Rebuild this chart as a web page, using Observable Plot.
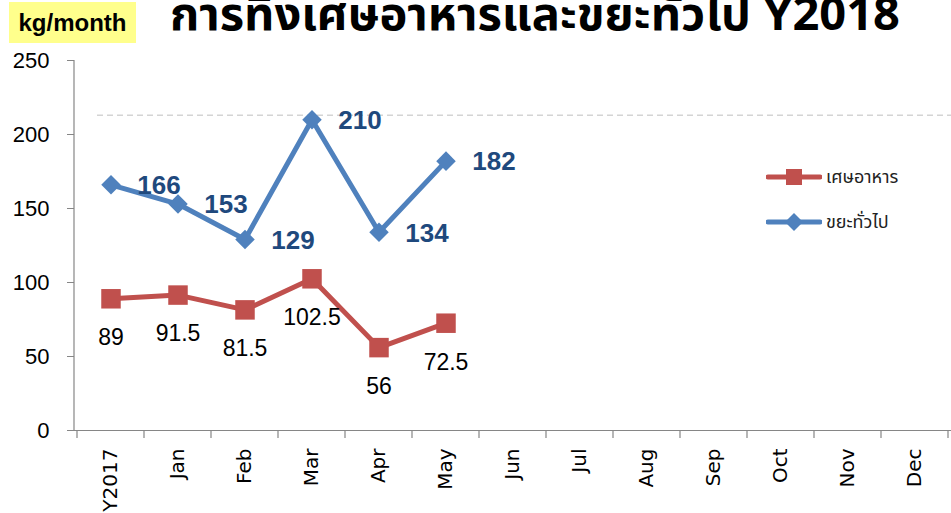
<!DOCTYPE html>
<html><head><meta charset="utf-8">
<script src="https://cdn.jsdelivr.net/npm/d3@7"></script>
<script src="https://cdn.jsdelivr.net/npm/@observablehq/plot@0.6"></script>
<style>
body{margin:0;background:#fff;}
#wrap{position:relative;width:951px;height:513px;overflow:hidden;}
#chart{position:absolute;left:0;top:0;}
#title{position:absolute;left:170px;top:-20px;white-space:nowrap;line-height:normal;font:bold 47px "Noto Sans Thai","Noto Sans","Liberation Sans",sans-serif;color:#000;}
#unit{position:absolute;left:9px;top:2px;width:127px;height:41px;background:#FFFF8C;display:flex;align-items:center;justify-content:center;font:bold 24px "Liberation Sans",sans-serif;color:#000;}
#legend{position:absolute;left:766px;top:163px;font:18px "Noto Sans Thai","Noto Sans",sans-serif;color:#222;}
#legend .row{display:flex;align-items:center;height:28px;margin-bottom:17px;}
#legend svg{margin-right:4px;}
svg [aria-label^="x-axis"] text{font-family:"DejaVu Sans",sans-serif;font-size:20px;fill:#000;}
svg [aria-label^="y-axis"] text{font-family:"Liberation Sans",sans-serif;font-size:22px;fill:#000;}
svg [aria-label^="y-axis"] line, svg [aria-label^="y-axis"] path{stroke:#868686;}
svg [aria-label^="x-axis"] line, svg [aria-label^="x-axis"] path{stroke:#868686;}
</style></head>
<body>
<div id="wrap">
  <div id="chart"></div>
  <div id="unit">kg/month</div>
  <div id="title">การทิ้งเศษอาหารและขยะทั่วไป Y2018</div>
  <div id="legend"></div>
</div>
<script>
const months = ["Y2017","Jan","Feb","Mar","Apr","May","Jun","Jul","Aug","Sep","Oct","Nov","Dec"];
const foodWaste = [89, 91.5, 81.5, 102.5, 56, 72.5];
const generalWaste = [166, 153, 129, 210, 134, 182];
const yTicks = [0, 50, 100, 150, 200, 250];
const seriesNames = ["เศษอาหาร", "ขยะทั่วไป"];
const seriesColors = ["#C0504D", "#4F81BD"];
const refLine = [213];

const food = foodWaste.map((v, i) => ({m: months[i], v}));
const general = generalWaste.map((v, i) => ({m: months[i], v}));

const chart = Plot.plot({
  width: 951, height: 513,
  marginLeft: 74, marginRight: 0, marginTop: 60, marginBottom: 83,
  style: {background: "transparent", overflow: "visible"},
  x: {type: "band", domain: months, padding: 0, label: null, tickSize: 0, tickRotate: -90, tickPadding: 18},
  y: {domain: [0, 250], ticks: yTicks, label: null, tickSize: 7, tickPadding: 18},
  marks: [
    Plot.ruleY(refLine, {stroke: "#d4d4d4", strokeWidth: 1.5, strokeDasharray: "6,4", insetLeft: 23}),
    Plot.ruleY([0], {stroke: "#868686", strokeWidth: 1.2}),
    Plot.line(general, {x: "m", y: "v", stroke: seriesColors[1], strokeWidth: 5}),
    Plot.dot(general, {x: "m", y: "v", symbol: "diamond2", r: 8.8, fill: seriesColors[1], stroke: null}),
    Plot.line(food, {x: "m", y: "v", stroke: seriesColors[0], strokeWidth: 5}),
    Plot.dot(food, {x: "m", y: "v", symbol: "square", r: 11, fill: seriesColors[0], stroke: null}),
    Plot.text(general, {x: "m", y: "v", text: d => String(d.v), dx: 48, dy: 1, fill: "#1F497D", fontWeight: "bold", fontSize: 26, fontFamily: "Liberation Sans"}),
    Plot.text(food, {x: "m", y: "v", text: d => String(d.v), dy: 39, fill: "#000", fontSize: 23, fontFamily: "Liberation Sans"})
  ]
});
document.getElementById("chart").appendChild(chart);

// boundary ticks on x axis and y axis line, using the plot's scales
const xs = chart.scale("x"), ys = chart.scale("y");
const svg = d3.select(chart);
const y0 = ys.apply(0), yTop = ys.apply(250);
const bounds = months.map(m => xs.apply(m)).concat([xs.apply(months[months.length - 1]) + xs.step]);
svg.append("g").selectAll("line").data(bounds).join("line")
  .attr("x1", d => d).attr("x2", d => d).attr("y1", y0).attr("y2", y0 + 8)
  .attr("stroke", "#868686").attr("stroke-width", 1.2);
svg.append("line").attr("x1", xs.range[0]).attr("x2", xs.range[0]).attr("y1", yTop).attr("y2", y0)
  .attr("stroke", "#868686").attr("stroke-width", 1.2);

// legend
const lg = d3.select("#legend");
seriesNames.forEach((name, i) => {
  const row = lg.append("div").attr("class", "row");
  const s = row.append("svg").attr("width", 56).attr("height", 24);
  s.append("line").attr("x1", 2).attr("x2", 54).attr("y1", 12).attr("y2", 12)
    .attr("stroke", seriesColors[i]).attr("stroke-width", 5).attr("stroke-linecap", "round");
  if (i === 0) s.append("rect").attr("x", 20).attr("y", 4).attr("width", 16).attr("height", 16).attr("fill", seriesColors[i]);
  else s.append("path").attr("d", "M28,3L37,12L28,21L19,12Z").attr("fill", seriesColors[i]);
  row.append("span").text(name);
});
</script>
</body></html>
